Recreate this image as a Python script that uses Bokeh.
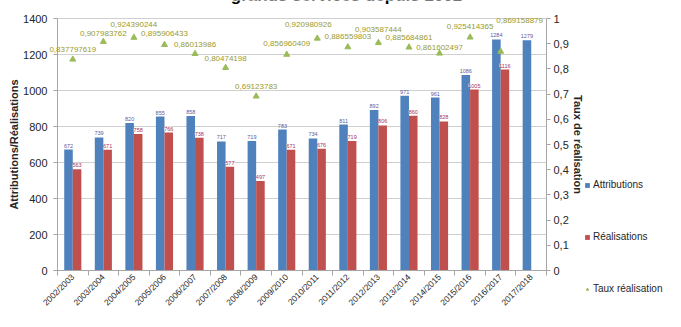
import math
import numpy as np
from bokeh.plotting import figure
from bokeh.models import (ColumnDataSource, Range1d, LinearAxis, FixedTicker,
                          CustomJSTickFormatter, LabelSet, Label, Legend, LegendItem)
from bokeh.embed import file_html
from bokeh.resources import INLINE
from bokeh.core.properties import value

# ---------------- data ----------------
periods = ["2002/2003", "2003/2004", "2004/2005", "2005/2006", "2006/2007",
           "2007/2008", "2008/2009", "2009/2010", "2010/2011", "2011/2012",
           "2012/2013", "2013/2014", "2014/2015", "2015/2016", "2016/2017",
           "2017/2018"]
attributions = [672, 739, 820, 855, 858, 717, 719, 783, 734, 811, 892, 971,
                961, 1086, 1284, 1279]
realisations = [563, 671, 758, 766, 738, 577, 497, 671, 676, 719, 806, 860,
                828, 1005, 1116]
taux = [0.837797619, 0.907983762, 0.924390244, 0.895906433, 0.86013986,
        0.80474198, 0.69123783, 0.856960409, 0.920980926, 0.886559803,
        0.903587444, 0.885684861, 0.861602497, 0.925414365, 0.869158879]
left_ticks = [0, 200, 400, 600, 800, 1000, 1200, 1400]
right_ticks = [0, 0.1, 0.2, 0.3, 0.4, 0.5, 0.6, 0.7, 0.8, 0.9, 1.0]
title_text = "grands services depuis 2002"

# label placement (pixels) for the rate labels
taux_label_dx = [0, 0, 0, 0, 0, 0, 0, 0, -9, 0, 0, 0, 0, 0, 19]
taux_label_dy = [9.5, 8.5, 13.5, 11, 9, 9.5, 9.5, 11, 13.5, 11, 13, 10, 6, 10.5, 31]

FONT = "Liberation Sans"
BLUE = "#4f81bd"
RED = "#c0504d"
GREEN = "#9bbb59"
AX = "#a6a6a6"
TXT = "#262626"

# ---------------- layout (pixels on the canvas) ----------------
W, H = 665, 311
PL_LEFT, PL_RIGHT, PL_TOP, PL_BOTTOM = 57, 546, 18, 270   # plot area edges

n = len(periods)
px_x = (PL_RIGHT - PL_LEFT) / n
px_y = (PL_BOTTOM - PL_TOP)
y_max = left_ticks[-1]
r_max = right_ticks[-1]

x_range = Range1d(-PL_LEFT / px_x, n + (W - PL_RIGHT) / px_x)
y_range = Range1d(-(H - PL_BOTTOM) / px_y * y_max, y_max + PL_TOP / px_y * y_max)
taux_range = Range1d(-(H - PL_BOTTOM) / px_y * r_max, r_max + PL_TOP / px_y * r_max)

p = figure(width=W, height=H, output_backend="svg", toolbar_location=None,
           x_range=x_range, y_range=y_range,
           min_border_left=0, min_border_right=0, min_border_top=0,
           min_border_bottom=0)
p.extra_y_ranges = {"taux": taux_range}
p.outline_line_color = None
p.background_fill_color = "white"
p.border_fill_color = "white"
p.title.visible = False
p.grid.visible = False

x_center = np.arange(n) + 0.5
bw = 0.28

# horizontal gridlines across the plot area only
p.segment(x0=[0] * len(left_ticks), x1=[n] * len(left_ticks), y0=left_ticks, y1=left_ticks,
          line_color="#d0d0d0", line_width=1)

src_a = ColumnDataSource(dict(x=x_center - bw / 2, y=attributions,
                              lab=[str(v) for v in attributions]))
src_r = ColumnDataSource(dict(x=x_center[:len(realisations)] + bw / 2, y=realisations,
                              lab=[str(v) for v in realisations]))
src_t = ColumnDataSource(dict(x=x_center[:len(taux)], y=taux,
                              lab=[str(v).replace(".", ",") for v in taux],
                              dx=taux_label_dx, dy=taux_label_dy))

ra = p.vbar(x="x", top="y", width=bw, source=src_a, fill_color=BLUE, line_color=None)
rr = p.vbar(x="x", top="y", width=bw, source=src_r, fill_color=RED, line_color=None)
rt = p.scatter(x="x", y="y", source=src_t, marker="triangle", size=6,
               fill_color=GREEN, line_color=GREEN, y_range_name="taux")

# value labels
p.add_layout(LabelSet(x="x", y="y", text="lab", source=src_a, y_offset=2,
                      text_font=value(FONT), text_font_size="5.5px",
                      text_color="#5b5b9e", text_align="center", text_baseline="bottom"))
p.add_layout(LabelSet(x="x", y="y", text="lab", source=src_r, y_offset=2,
                      text_font=value(FONT), text_font_size="5.5px",
                      text_color="#a8325a", text_align="center", text_baseline="bottom",
                      background_fill_color="white", background_fill_alpha=0.55))
p.add_layout(LabelSet(x="x", y="y", text="lab", source=src_t, y_range_name="taux",
                      x_offset="dx", y_offset="dy",
                      text_font=value(FONT), text_font_size="8px",
                      text_color="#9a9a2e", text_align="center", text_baseline="middle"))

# ---------------- axes ----------------
ly = p.yaxis[0]
ly.fixed_location = 0
ly.bounds = (left_ticks[0], left_ticks[-1])
ly.ticker = FixedTicker(ticks=left_ticks)
ly.axis_label = "Attributions/Réalisations"
ly.axis_label_text_font = FONT
ly.axis_label_text_font_style = "bold"
ly.axis_label_text_font_size = "11px"
ly.axis_label_text_color = TXT
ly.axis_label_standoff = 0
ly.major_label_text_font = FONT
ly.major_label_text_font_size = "11px"
ly.major_label_text_color = TXT
ly.major_label_standoff = 6
ly.axis_line_color = AX
ly.major_tick_line_color = AX
ly.major_tick_out = 4
ly.major_tick_in = 0
ly.minor_tick_line_color = None

ry = LinearAxis(y_range_name="taux", ticker=FixedTicker(ticks=right_ticks),
                formatter=CustomJSTickFormatter(code="""
                    const v = Math.round(tick * 10) / 10;
                    return v.toString().replace('.', ',');
                """))
ry.fixed_location = n
ry.bounds = (right_ticks[0], right_ticks[-1])
ry.axis_label = "Taux de réalisation"
ry.axis_label_text_font = FONT
ry.axis_label_text_font_style = "bold"
ry.axis_label_text_font_size = "11px"
ry.axis_label_text_color = TXT
ry.axis_label_standoff = 0
ry.major_label_text_font = FONT
ry.major_label_text_font_size = "11px"
ry.major_label_text_color = TXT
ry.major_label_standoff = 3
ry.axis_line_color = AX
ry.major_tick_line_color = AX
ry.major_tick_out = 4
ry.major_tick_in = 0
ry.minor_tick_line_color = None
p.add_layout(ry, "right")

bx = p.xaxis[0]
bx.fixed_location = 0
bx.bounds = (0, n)
bx.ticker = FixedTicker(ticks=list(x_center), minor_ticks=list(range(n + 1)))
bx.formatter = CustomJSTickFormatter(args=dict(labels=periods),
                                     code="return labels[Math.floor(tick)] || '';")
bx.major_label_orientation = math.pi / 4
bx.major_label_text_font = FONT
bx.major_label_text_font_size = "8.5px"
bx.major_label_text_color = TXT
bx.major_label_standoff = 0
bx.major_tick_out = 0
bx.major_tick_in = 0
bx.minor_tick_out = 5
bx.minor_tick_in = 0
bx.minor_tick_line_color = AX
bx.axis_line_color = AX

# title (cropped at the top of the image in the reference)
p.add_layout(Label(x=346, y=H + 5, x_units="screen", y_units="screen", text=title_text,
                   text_font=FONT, text_font_style="bold", text_font_size="17px",
                   text_color="#000000", text_align="center", text_baseline="alphabetic"))

legend = Legend(items=[LegendItem(label="Attributions", renderers=[ra]),
                       LegendItem(label="Réalisations", renderers=[rr]),
                       LegendItem(label="Taux réalisation", renderers=[rt])],
                location=(584, H - 295), orientation="vertical", spacing=39,
                padding=0, margin=0, glyph_width=6, glyph_height=6,
                label_height=13, label_standoff=3,
                label_text_font=FONT, label_text_font_size="10px",
                label_text_color=TXT, border_line_color=None,
                background_fill_alpha=0)
p.add_layout(legend)

open("out.html", "w").write(file_html(p, INLINE))
